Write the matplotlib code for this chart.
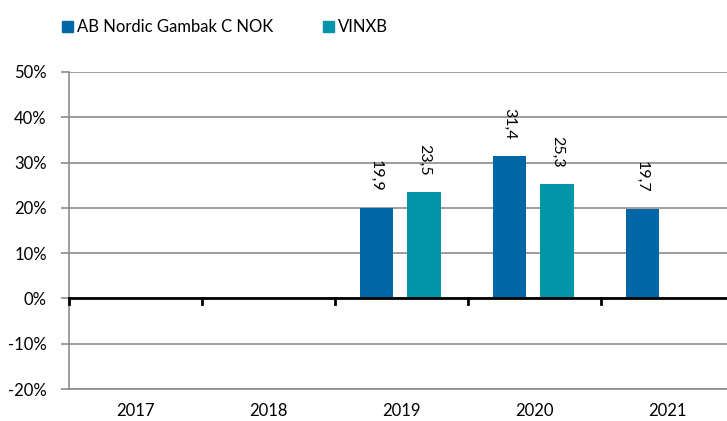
import matplotlib.pyplot as plt
import numpy as np

plt.rcParams['font.family'] = ['Lato', 'DejaVu Sans']

years = ['2017', '2018', '2019', '2020', '2021']
fund = [np.nan, np.nan, 19.9, 31.4, 19.7]
index = [np.nan, np.nan, 23.5, 25.3, np.nan]
fund_name = 'AB Nordic Gambak C NOK'
index_name = 'VINXB'

c_fund = '#0066a6'
c_index = '#0095a8'

fig = plt.figure(figsize=(7.27, 4.21), dpi=100)
ax = fig.add_axes([69 / 727, 32 / 421, 661 / 727, 317 / 421])

x = np.arange(len(years))
off = 0.18
w = 0.25
b1 = ax.bar(x - off - 0.01, fund, w, color=c_fund, zorder=3)
b2 = ax.bar(x + off - 0.01, index, w, color=c_index, zorder=3)

for bars, vals in [(b1, fund), (b2, index)]:
    for r, v in zip(bars, vals):
        if np.isnan(v):
            continue
        ax.annotate(f'{v:.1f}'.replace('.', ','), (r.get_x() + r.get_width() / 2, v),
                    xytext=(0, 12), textcoords='offset points', rotation=270,
                    ha='center', va='bottom', fontsize=11.5)

ax.set_ylim(-20, 50)
ax.set_xlim(-0.5, 4.47)
ax.set_yticks(np.arange(-20, 51, 10))
ax.set_yticklabels([f'{t}%' for t in range(-20, 51, 10)], fontsize=12)
ax.yaxis.grid(True, color='#8c8c8c', linewidth=1.2, zorder=0)
ax.tick_params(axis='y', length=6, color='#8c8c8c', width=1.2, pad=10)
ax.set_xticks(x)
ax.set_xticklabels(years, fontsize=12)
ax.tick_params(axis='x', length=0, pad=10)

for s in ['top', 'right']:
    ax.spines[s].set_visible(False)
ax.spines['left'].set_color('#8c8c8c')
ax.spines['left'].set_linewidth(1.2)
ax.spines['bottom'].set_color('#8c8c8c')
ax.spines['bottom'].set_linewidth(1.2)

# zero line with category ticks
ax.axhline(0, color='black', linewidth=2, zorder=4)
for b in np.arange(-0.5, 4.5, 1):
    ax.plot([b, b], [0, -1.2], color='black', linewidth=2, zorder=4, clip_on=False)

handles = [plt.Rectangle((0, 0), 1, 1, color=c_fund), plt.Rectangle((0, 0), 1, 1, color=c_index)]
fig.legend(handles, [fund_name, index_name], loc='upper left', bbox_to_anchor=(47 / 727, 1 - 4 / 421),
           ncol=2, frameon=False, fontsize=12, handlelength=0.65, handleheight=0.65,
           handletextpad=0.25, columnspacing=3.0)

fig.savefig('out.png', dpi=100)
